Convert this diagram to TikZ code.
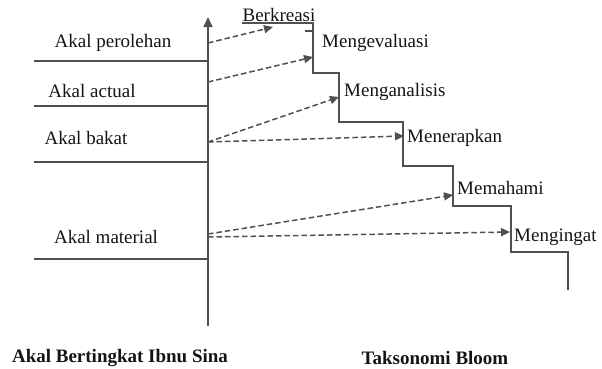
\documentclass[tikz,border=0pt]{standalone}
\usepackage{fontspec}
\setmainfont{Liberation Serif}
\usetikzlibrary{arrows.meta}
\definecolor{ln}{RGB}{80,80,80}
\definecolor{tx}{RGB}{20,20,20}
\begin{document}
\begin{tikzpicture}[x=1pt,y=-1pt,
  solidln/.style={draw=ln,line width=1.7pt},
  dashln/.style={draw=ln,line width=1.5pt,dash pattern=on 5.5pt off 3pt,-{Triangle[length=9pt,width=8pt]}},
  lbl/.style={font=\fontsize{19}{22}\selectfont,text=tx,inner sep=0pt},
  title/.style={font=\fontsize{19}{22}\selectfont\bfseries,text=tx,inner sep=0pt}]
\useasboundingbox (0,0) rectangle (602,368);
% axis
\coordinate (axB) at (208,326);
\coordinate (axT) at (208,17);
\draw[solidln,-{Triangle[length=10pt,width=9pt]}] (axB) -- (axT);
% left horizontal lines
\coordinate (h1a) at (34,61);  \coordinate (h1b) at (208,61);
\coordinate (h2a) at (34,106); \coordinate (h2b) at (208,106);
\coordinate (h3a) at (34,162); \coordinate (h3b) at (208,162);
\coordinate (h4a) at (34,259); \coordinate (h4b) at (208,259);
\draw[solidln] (h1a) -- (h1b) (h2a) -- (h2b) (h3a) -- (h3b) (h4a) -- (h4b);
% left labels
\node[lbl] (per) at (113,43) {Akal perolehan};
\node[lbl] (act) at (92,91) {Akal actual};
\node[lbl] (bak) at (86,138) {Akal bakat};
\node[lbl] (mat) at (106,237) {Akal material};
% staircase
\draw[solidln] (242,23) -- (313,23) -- (313,73) -- (339,73) -- (339,122) -- (403,122)
  -- (403,166) -- (453,166) -- (453,206) -- (511,206) -- (511,252) -- (568,252) -- (568,290);
\draw[draw=ln,line width=1.1pt] (305,31) -- (313,31);
% right labels
\node[lbl,anchor=base] (ber) at (279,21) {Berkreasi};
\node[lbl,anchor=west] (eva) at (322,43) {Mengevaluasi};
\node[lbl,anchor=west] (ana) at (344,92) {Menganalisis};
\node[lbl,anchor=west] (ter) at (407,138) {Menerapkan};
\node[lbl,anchor=west] (pah) at (457,188) {Memahami};
\node[lbl,anchor=west] (ing) at (514,237) {Mengingat};
% connector ends
\coordinate (s1) at (208,43);
\coordinate (s2) at (208,82);
\coordinate (s3) at (208,142);
\coordinate (s4a) at (208,234);
\coordinate (s4b) at (208,237);
\coordinate (e1) at (273,27);
\coordinate (e2) at (313,57);
\coordinate (e3) at (339,97);
\coordinate (e4) at (404,136);
\coordinate (e5) at (453,195);
\coordinate (e6) at (510,232);
\draw[dashln] (s1) -- (e1);
\draw[dashln] (s2) -- (e2);
\draw[dashln] (s3) -- (e3);
\draw[dashln] (s3) -- (e4);
\draw[dashln] (s4a) -- (e5);
\draw[dashln] (s4b) -- (e6);
% titles
\node[title] (t1) at (120,358) {Akal Bertingkat Ibnu Sina};
\node[title] (t2) at (435,358) {Taksonomi Bloom};
\end{tikzpicture}
\end{document}
